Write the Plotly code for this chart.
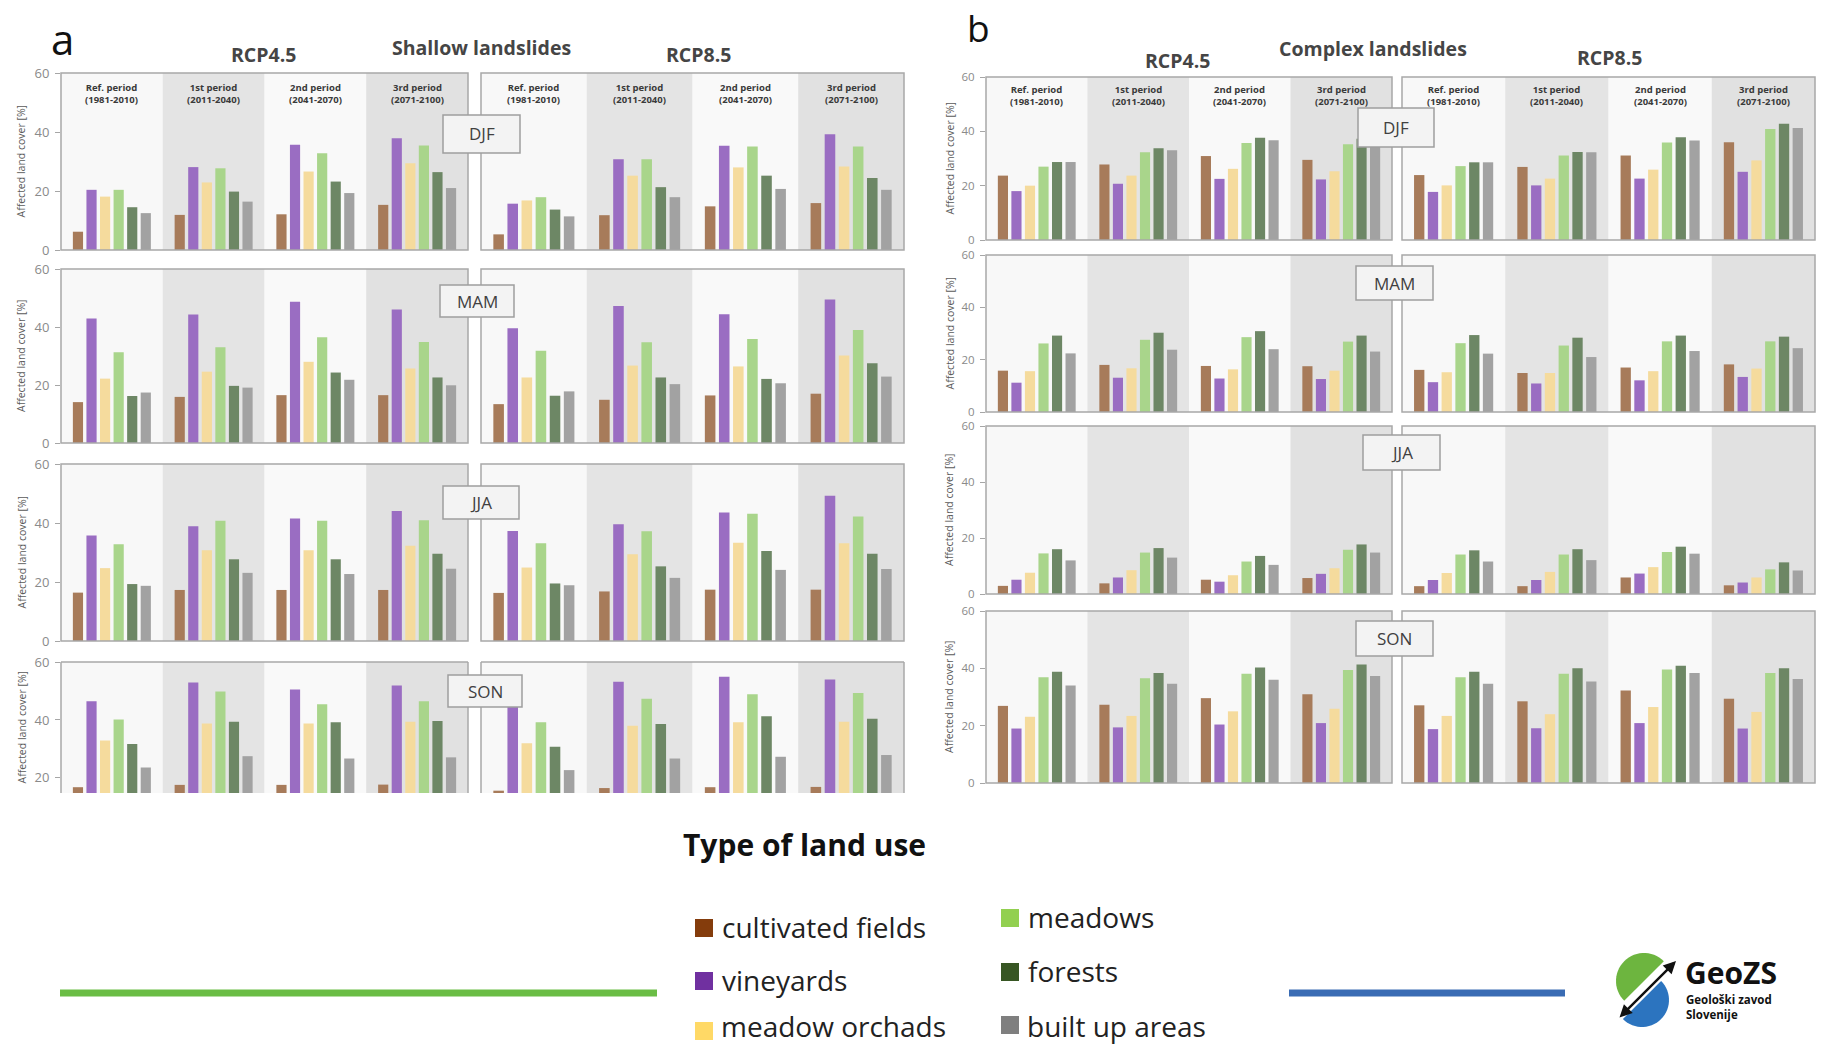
import math
import plotly.graph_objects as go

W, H = 1824, 1046

# ---------------- data ----------------
land_uses = ["cultivated fields", "vineyards", "meadow orchads", "meadows", "forests", "built up areas"]
periods = ["Ref. period<br>(1981-2010)", "1st period<br>(2011-2040)",
           "2nd period<br>(2041-2070)", "3rd period<br>(2071-2100)"]
seasons = ["DJF", "MAM", "JJA", "SON"]
scenarios = ["RCP4.5", "RCP8.5"]
y_ticks = [0, 20, 40, 60]

# each row = one period: [cultivated, vineyards, orchads, meadows, forests, built up]
shallow_rcp45_djf = [[6.2, 20.4, 18.1, 20.4, 14.5, 12.5], [11.9, 28.1, 22.9, 27.7, 19.8, 16.4],
                     [12.1, 35.7, 26.6, 32.8, 23.2, 19.3], [15.3, 37.9, 29.4, 35.4, 26.4, 21.0]]
shallow_rcp45_mam = [[14.1, 42.9, 22.2, 31.3, 16.2, 17.4], [15.9, 44.3, 24.6, 33.0, 19.7, 19.1],
                     [16.5, 48.7, 28.0, 36.5, 24.3, 21.8], [16.5, 46.0, 25.7, 34.8, 22.6, 19.9]]
shallow_rcp45_jja = [[16.4, 35.8, 24.7, 32.8, 19.3, 18.7], [17.3, 38.9, 30.8, 40.8, 27.7, 23.1],
                     [17.3, 41.5, 30.8, 40.8, 27.7, 22.7], [17.3, 44.1, 32.3, 40.9, 29.6, 24.5]]
shallow_rcp45_son = [[16.8, 46.5, 32.9, 40.2, 31.7, 23.6], [17.6, 52.9, 38.8, 49.8, 39.4, 27.5],
                     [17.6, 50.5, 38.8, 45.4, 39.2, 26.7], [17.7, 51.9, 39.4, 46.5, 39.6, 27.1]]

shallow_rcp85_djf = [[5.3, 15.7, 16.8, 17.9, 13.7, 11.4], [11.8, 30.8, 25.2, 30.8, 21.3, 17.9],
                     [14.8, 35.3, 28.0, 35.1, 25.2, 20.7], [15.9, 39.2, 28.3, 35.1, 24.4, 20.4]]
shallow_rcp85_mam = [[13.4, 39.6, 22.6, 31.8, 16.3, 17.8], [14.9, 47.2, 26.7, 34.7, 22.6, 20.3],
                     [16.4, 44.4, 26.4, 35.9, 22.1, 20.6], [17.0, 49.5, 30.2, 39.0, 27.5, 22.9]]
shallow_rcp85_jja = [[16.3, 37.3, 24.9, 33.1, 19.5, 18.9], [16.8, 39.6, 29.4, 37.2, 25.3, 21.4],
                     [17.4, 43.6, 33.3, 43.1, 30.5, 24.1], [17.4, 49.2, 33.1, 42.2, 29.6, 24.4]]
shallow_rcp85_son = [[15.6, 46.0, 32.0, 39.2, 30.8, 22.7], [16.5, 53.2, 38.0, 47.3, 38.6, 26.7],
                     [16.8, 54.9, 39.2, 48.9, 41.3, 27.3], [16.9, 54.0, 39.4, 49.3, 40.4, 27.9]]

complex_rcp45_djf = [[23.7, 18.0, 20.0, 27.0, 28.7, 28.7], [27.8, 20.7, 23.7, 32.3, 33.8, 33.0],
                     [30.9, 22.5, 26.2, 35.7, 37.6, 36.7], [29.5, 22.3, 25.3, 35.2, 37.3, 36.0]]
complex_rcp45_mam = [[15.8, 11.2, 15.6, 26.2, 29.2, 22.4], [18.0, 13.1, 16.7, 27.6, 30.3, 23.8],
                     [17.6, 12.8, 16.3, 28.6, 30.9, 24.0], [17.5, 12.6, 15.8, 26.9, 29.2, 23.1]]
complex_rcp45_jja = [[2.9, 5.1, 7.6, 14.5, 16.0, 12.0], [3.8, 5.9, 8.5, 14.8, 16.4, 13.0],
                     [5.1, 4.4, 6.7, 11.6, 13.6, 10.4], [5.7, 7.2, 9.2, 15.8, 17.7, 14.8]]
complex_rcp45_son = [[26.9, 19.0, 23.1, 36.9, 38.8, 34.0], [27.3, 19.4, 23.4, 36.5, 38.4, 34.6],
                     [29.6, 20.4, 25.0, 38.1, 40.3, 36.0], [31.0, 20.9, 25.9, 39.4, 41.3, 37.3]]

complex_rcp85_djf = [[23.9, 17.7, 20.1, 27.2, 28.6, 28.6], [26.9, 20.1, 22.6, 31.1, 32.4, 32.3],
                     [31.1, 22.6, 25.9, 35.9, 37.8, 36.6], [36.0, 25.1, 29.3, 40.9, 42.8, 41.2]]
complex_rcp85_mam = [[16.1, 11.4, 15.2, 26.3, 29.4, 22.3], [14.9, 10.9, 14.9, 25.4, 28.4, 21.0],
                     [17.0, 12.1, 15.6, 27.0, 29.2, 23.3], [18.2, 13.4, 16.6, 27.0, 28.8, 24.4]]
complex_rcp85_jja = [[2.8, 5.0, 7.5, 14.1, 15.6, 11.6], [2.8, 5.0, 7.9, 14.1, 16.0, 12.1],
                     [5.9, 7.3, 9.6, 15.0, 16.9, 14.4], [3.1, 4.1, 5.9, 8.8, 11.3, 8.4]]
complex_rcp85_son = [[27.1, 18.8, 23.4, 36.9, 38.8, 34.6], [28.5, 19.1, 24.0, 38.1, 40.0, 35.4],
                     [32.3, 20.9, 26.5, 39.6, 40.9, 38.4], [29.4, 19.0, 24.8, 38.4, 40.0, 36.3]]

shallow = {"RCP4.5": [shallow_rcp45_djf, shallow_rcp45_mam, shallow_rcp45_jja, shallow_rcp45_son],
           "RCP8.5": [shallow_rcp85_djf, shallow_rcp85_mam, shallow_rcp85_jja, shallow_rcp85_son]}
complex_ = {"RCP4.5": [complex_rcp45_djf, complex_rcp45_mam, complex_rcp45_jja, complex_rcp45_son],
            "RCP8.5": [complex_rcp85_djf, complex_rcp85_mam, complex_rcp85_jja, complex_rcp85_son]}

# ---------------- styles / geometry ----------------
FONT = "Open Sans"
bar_colors = ["#A77B5A", "#9A6DC2", "#F5DB9D", "#A9D58B", "#6D8765", "#A2A2A2"]
legend_colors = ["#843C0C", "#7030A0", "#FFD966", "#92D050", "#375623", "#7F7F7F"]
band_colors = ["#F8F8F8", "#E4E4E4", "#F9F9F9", "#E1E1E1"]
frame_color = "#A8A8A8"

panels = [
    dict(data=shallow,
         cols={"RCP4.5": (61, 468), "RCP8.5": (481, 904)},
         rows={"DJF": (73, 250), "MAM": (269, 443), "JJA": (464, 641), "SON": (662, 793)},
         yranges={"SON": [14.8, 60]}, cropped={"SON"}, ytitle_x=21, tick_size=13,
         boxes={"DJF": (443, 520, 115, 153), "MAM": (440, 514, 285, 317),
                "JJA": (443, 519, 486, 519), "SON": (448, 522, 675, 707)}),
    dict(data=complex_,
         cols={"RCP4.5": (986, 1392), "RCP8.5": (1402, 1815)},
         rows={"DJF": (77, 240), "MAM": (255, 412), "JJA": (426, 594), "SON": (611, 783)},
         yranges={}, cropped=set(), ytitle_x=949, tick_size=11.5,
         boxes={"DJF": (1358, 1434, 108, 147), "MAM": (1356, 1433, 266, 300),
                "JJA": (1363, 1440, 435, 470), "SON": (1356, 1433, 621, 656)}),
]


def PX(x):
    return x / W


def PY(y):
    return 1 - y / H


def note(x, y, text, size, color="#111111", xanchor="center", yanchor="middle", **kw):
    d = dict(xref="paper", yref="paper", x=PX(x), y=PY(y), text=text, showarrow=False,
             xanchor=xanchor, yanchor=yanchor, font=dict(family=FONT, size=size, color=color))
    d.update(kw)
    return d


fig = go.Figure()
axes = {}
shapes = []
annotations = []

idx = 0
for panel in panels:
    for sc in scenarios:
        for s_i, season in enumerate(seasons):
            idx += 1
            sfx = "" if idx == 1 else str(idx)
            xr, yr_ = "x" + sfx, "y" + sfx
            values = panel["data"][sc][s_i]
            left, right = panel["cols"][sc]
            top, bottom = panel["rows"][season]
            yrange = panel["yranges"].get(season, [0, 60])
            for k, lu in enumerate(land_uses):
                fig.add_trace(go.Bar(
                    x=periods, y=[values[p][k] for p in range(4)], name=lu,
                    marker=dict(color=bar_colors[k], line=dict(width=0)),
                    xaxis=xr, yaxis=yr_, showlegend=False))
            is_left = sc == "RCP4.5"
            axes["xaxis" + sfx] = dict(domain=[PX(left), PX(right)], anchor=yr_, type="category",
                                       range=[-0.5, 3.5], showticklabels=False, showgrid=False,
                                       zeroline=False, showline=False, ticks="", fixedrange=True,
                                       automargin=False)
            axes["yaxis" + sfx] = dict(domain=[PY(bottom), PY(top)], anchor=xr, range=yrange,
                                       tickvals=[t for t in y_ticks if t >= yrange[0]],
                                       showticklabels=is_left, ticks="outside" if is_left else "",
                                       ticklen=5, tickcolor="#A6A6A6", ticklabelstandoff=3,
                                       tickfont=dict(family=FONT, size=panel["tick_size"], color="#8A8A8A"),
                                       showgrid=False, zeroline=False, showline=False, fixedrange=True,
                                       automargin=False)
            # period background bands
            for p in range(4):
                shapes.append(dict(type="rect", xref=xr, yref=yr_ + " domain", x0=p - 0.5, x1=p + 0.5,
                                   y0=0, y1=1, fillcolor=band_colors[p], line=dict(width=0), layer="below"))
            # frame
            if season in panel["cropped"]:
                for (a0, b0, a1, b1) in [(0, 0, 0, 1), (1, 0, 1, 1), (0, 1, 1, 1)]:
                    shapes.append(dict(type="line", xref=xr + " domain", yref=yr_ + " domain",
                                       x0=a0, y0=b0, x1=a1, y1=b1,
                                       line=dict(color=frame_color, width=1.5), layer="above"))
            else:
                shapes.append(dict(type="rect", xref=xr + " domain", yref=yr_ + " domain",
                                   x0=0, y0=0, x1=1, y1=1, fillcolor="rgba(0,0,0,0)",
                                   line=dict(color=frame_color, width=1.5), layer="above"))
            # period headers (top row only)
            if season == "DJF":
                for p in range(4):
                    annotations.append(dict(xref=xr, yref=yr_ + " domain", x=p, y=0.885,
                                            xanchor="center", yanchor="middle",
                                            text="<b>" + periods[p] + "</b>", showarrow=False,
                                            align="center", font=dict(family=FONT, size=9.5, color="#3A3A3A")))
            # y-axis title
            if is_left:
                annotations.append(note(panel["ytitle_x"], (top + bottom) / 2, "Affected land cover [%]",
                                        10.5, "#5A5A5A", textangle=-90))

    # season label boxes
    for season in seasons:
        x0, x1, y0, y1 = panel["boxes"][season]
        shapes.append(dict(type="rect", xref="paper", yref="paper", x0=PX(x0), x1=PX(x1),
                           y0=PY(y1), y1=PY(y0), fillcolor="#F3F3F3",
                           line=dict(color="#9E9E9E", width=1.5), layer="above"))
        annotations.append(note((x0 + x1) / 2, (y0 + y1) / 2, season, 17, "#404040"))

# panel titles
annotations.append(note(62, 38, "a", 42, "#111111"))
annotations.append(note(978, 0, "b", 37, "#111111", yanchor="top"))
titles = [("RCP4.5", 263, 55), ("Shallow landslides", 481, 47), ("RCP8.5", 698, 55),
          ("RCP4.5", 1177, 60), ("Complex landslides", 1373, 48), ("RCP8.5", 1609, 58)]
for txt, x, y in titles:
    annotations.append(note(x, y, "<b>%s</b>" % txt, 19.5, "#454545"))

# legend
annotations.append(note(804, 844, "<b>Type of land use</b>", 30, "#111111"))
legend_pos = [(704, 928), (704, 981), (704, 1031), (1010, 918), (1010, 972), (1010, 1025)]
for k, lu in enumerate(land_uses):
    cx, cy = legend_pos[k]
    shapes.append(dict(type="rect", xref="paper", yref="paper", x0=PX(cx - 9), x1=PX(cx + 9),
                       y0=PY(cy + 9), y1=PY(cy - 9), fillcolor=legend_colors[k], line=dict(width=0)))
    if cy > 1020:
        annotations.append(note(cx + 16, H, lu, 28, "#222222", xanchor="left", yanchor="bottom",
                                borderpad=0))
    else:
        annotations.append(note(cx + 16, cy - 1, lu, 28, "#222222", xanchor="left"))

# decorative lines
shapes.append(dict(type="line", xref="paper", yref="paper", x0=PX(60), x1=PX(657), y0=PY(993), y1=PY(993),
                   line=dict(color="#6ABD45", width=7)))
shapes.append(dict(type="line", xref="paper", yref="paper", x0=PX(1289), x1=PX(1565), y0=PY(993), y1=PY(993),
                   line=dict(color="#3A6CB4", width=7)))


# GeoZS logo
def half_disk(cx, cy, r, a0, a1, n=30):
    pts = []
    for i in range(n + 1):
        a = math.radians(a0 + (a1 - a0) * i / n)
        pts.append((cx + r * math.cos(a), cy - r * math.sin(a)))
    return "M " + " L ".join("%.5f,%.5f" % (PX(x), PY(y)) for x, y in pts) + " Z"


shapes.append(dict(type="path", xref="paper", yref="paper", path=half_disk(1644, 981, 28, 45, 225),
                   fillcolor="#6DB53F", line=dict(width=0)))
shapes.append(dict(type="path", xref="paper", yref="paper", path=half_disk(1642, 1000, 27, 225, 405),
                   fillcolor="#2C74BF", line=dict(width=0)))
annotations.append(dict(xref="paper", yref="paper", x=PX(1676), y=PY(961), ax=-58, ay=58,
                        text="", showarrow=True, arrowhead=2, arrowside="end+start", arrowsize=1,
                        arrowwidth=2.5, arrowcolor="#111111"))
annotations.append(note(1683, 972, "<b>GeoZS</b>", 30, "#111111", xanchor="left"))
annotations.append(note(1684, 1007, "<b>Geološki zavod<br>Slovenije</b>", 11.5, "#111111",
                        xanchor="left", align="left"))

fig.update_layout(
    width=W, height=H, margin=dict(l=0, r=0, t=0, b=0, pad=0, autoexpand=False),
    paper_bgcolor="white", plot_bgcolor="#F6F6F6",
    barmode="group", bargap=0.2, bargroupgap=0.25,
    font=dict(family=FONT), shapes=shapes, annotations=annotations, showlegend=False,
    **axes)

fig.write_html("out.html", config={"displayModeBar": False},
               post_script="document.body.style.margin='0';document.body.style.padding='0';"
                           "document.documentElement.style.overflow='hidden';")
